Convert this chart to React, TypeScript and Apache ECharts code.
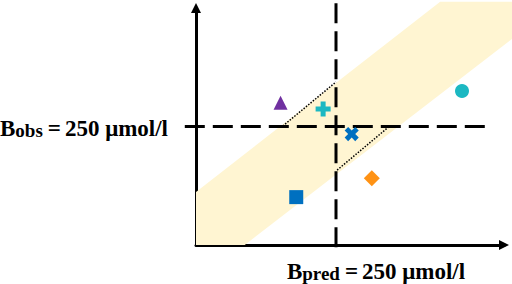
import React, { useEffect, useRef } from 'react';
import * as echarts from 'echarts';

// Axis ranges (µmol/l) and threshold
const X_MAX = 550;
const Y_MAX = 500;
const THRESHOLD = 250;

// Observations
const markerSymbols = ['triangle', 'plus', 'cross', 'diamond', 'rect', 'circle'];
const markerX = [151, 227, 278, 314, 179, 475];
const markerY = [300, 287, 234, 141, 101, 325];
const markerColors = ['#7030A0', '#1CB8C2', '#0070C0', '#FF9214', '#0070C0', '#1CB8C2'];
const markerSizes = [14, 15, 15, 16, 14, 14];

// Agreement band polygon
const bandX = [0, 436, 570, 570, 87, 0];
const bandY = [112, 513, 513, 440, 0, 0];

// Dotted segments between the threshold lines
const dottedUpperX = [155, 250];
const dottedUpperY = [251, 344];
const dottedLowerX = [252, 346];
const dottedLowerY = [158, 251];

// Extent of the threshold lines
const hLineX = [-20, 528];
const vLineY = [-17, 510];

const PLUS = 'path://M5,0H10V5H15V10H10V15H5V10H0V5H5Z';

export default function App() {
  const ref = useRef<HTMLDivElement>(null);
  useEffect(() => {
    document.body.style.margin = '0';
    const chart = echarts.init(ref.current!, null, { renderer: 'svg' });
    const rich = {
      b: { fontFamily: 'Liberation Serif', fontWeight: 'bold', fontSize: 23, lineHeight: 28, verticalAlign: 'bottom', fill: '#000', color: '#000' },
      s: { fontFamily: 'Liberation Serif', fontWeight: 'bold', fontSize: 19, lineHeight: 16, verticalAlign: 'bottom', fill: '#000', color: '#000' },
      e: { fontFamily: 'Liberation Serif', fontWeight: 'bold', fontSize: 23, lineHeight: 28, verticalAlign: 'bottom', padding: [0, 4, 0, 5], fill: '#000', color: '#000' },
      n: { fontFamily: 'Liberation Serif', fontWeight: 'bold', fontSize: 23, lineHeight: 28, verticalAlign: 'bottom', fill: '#000', color: '#000' },
    };
    const option: any = {
      animation: false,
      grid: { left: 196, top: 8, width: 308, height: 237 },
      xAxis: {
        type: 'value', min: 0, max: X_MAX,
        axisLine: { show: true, symbol: ['none', 'triangle'], symbolSize: [10, 10], lineStyle: { color: '#000', width: 3 } },
        axisTick: { show: false }, axisLabel: { show: false }, splitLine: { show: false },
      },
      yAxis: {
        type: 'value', min: 0, max: Y_MAX,
        axisLine: { show: true, symbol: ['none', 'triangle'], symbolSize: [10, 10], lineStyle: { color: '#000', width: 3 } },
        axisTick: { show: false }, axisLabel: { show: false }, splitLine: { show: false },
      },
      series: [
        {
          type: 'custom', data: [[0, 0]], silent: true, z: 1,
          renderItem: (_p: any, api: any) => ({
            type: 'polygon',
            shape: { points: bandX.map((x, i) => api.coord([x, bandY[i]])) },
            style: { fill: '#FFF5D2' },
          }),
        },
        {
          type: 'custom', data: [[0, 0]], silent: true, z: 3,
          renderItem: (_p: any, api: any) => {
            const h0 = api.coord([hLineX[0], THRESHOLD]);
            const h1 = api.coord([hLineX[1], THRESHOLD]);
            const v0 = api.coord([THRESHOLD, vLineY[1]]);
            const v1 = api.coord([THRESHOLD, vLineY[0]]);
            const u0 = api.coord([dottedUpperX[0], dottedUpperY[0]]);
            const u1 = api.coord([dottedUpperX[1], dottedUpperY[1]]);
            const l0 = api.coord([dottedLowerX[0], dottedLowerY[0]]);
            const l1 = api.coord([dottedLowerX[1], dottedLowerY[1]]);
            const dash = { stroke: '#000', lineWidth: 3, lineDash: [20, 8], fill: null };
            const dot = { stroke: '#000', lineWidth: 1.5, lineDash: [1.5, 1.5], fill: null };
            return {
              type: 'group',
              children: [
                { type: 'line', shape: { x1: u0[0], y1: u0[1], x2: u1[0], y2: u1[1] }, style: dot },
                { type: 'line', shape: { x1: l0[0], y1: l0[1], x2: l1[0], y2: l1[1] }, style: dot },
                { type: 'line', shape: { x1: h0[0], y1: h0[1], x2: h1[0], y2: h1[1] }, style: dash },
                { type: 'line', shape: { x1: v0[0], y1: v0[1], x2: v1[0], y2: v1[1] }, style: dash },
              ],
            };
          },
        },
        {
          type: 'scatter', z: 5, silent: true,
          data: markerX.map((x, i) => ({
            value: [x, markerY[i]],
            symbol: markerSymbols[i] === 'plus' || markerSymbols[i] === 'cross' ? PLUS : markerSymbols[i],
            symbolRotate: markerSymbols[i] === 'cross' ? 45 : 0,
            symbolSize: markerSizes[i],
            itemStyle: { color: markerColors[i], opacity: 1 },
          })),
        },
      ],
      graphic: [
        {
          type: 'text', x: 168, y: 126, z: 10,
          style: { text: '{b|B}{s|obs}{e|=}{n|250 μmol/l}', rich, align: 'right', verticalAlign: 'middle', textAlign: 'right', textVerticalAlign: 'middle' },
        },
        {
          type: 'text', x: 376, y: 269, z: 10,
          style: { text: '{b|B}{s|pred}{e|=}{n|250 μmol/l}', rich, align: 'center', verticalAlign: 'middle', textAlign: 'center', textVerticalAlign: 'middle' },
        },
      ],
    };
    chart.setOption(option);
    return () => chart.dispose();
  }, []);
  return <div ref={ref} style={{ position: 'fixed', left: 0, top: 0, width: 512, height: 284, background: '#fff' }} />;
}
